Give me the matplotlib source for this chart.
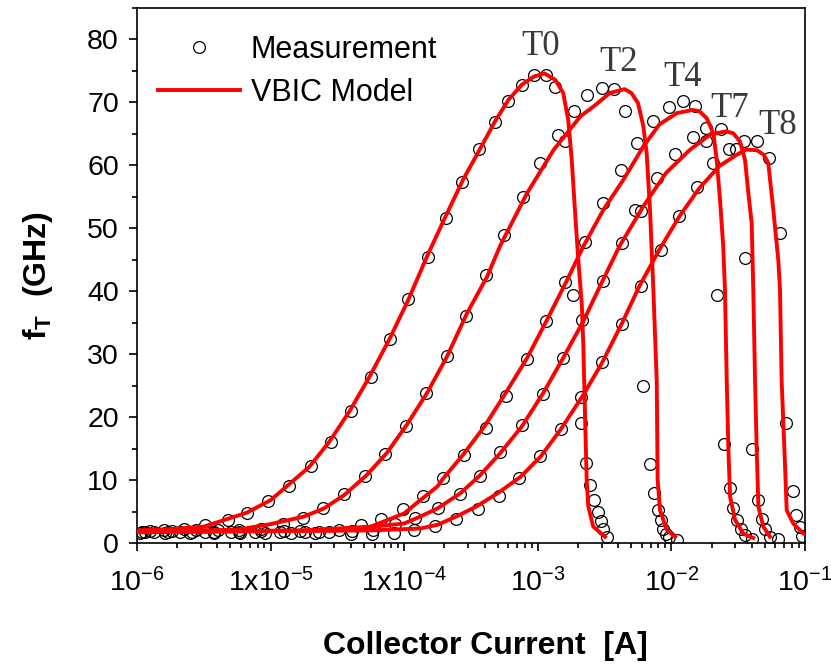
import numpy as np
from matplotlib import pyplot as plt
from matplotlib.lines import Line2D
from matplotlib.ticker import LogLocator, MultipleLocator, NullFormatter

plt.rcParams['font.family'] = ['Liberation Sans', 'DejaVu Sans']
plt.rcParams['mathtext.fontset'] = 'custom'
plt.rcParams['mathtext.rm'] = 'Liberation Sans'
plt.rcParams['mathtext.it'] = 'Liberation Sans:italic'
plt.rcParams['mathtext.bf'] = 'Liberation Sans:bold'

# log10 of collector current [A] and fT [GHz], VBIC model curves
t0_model_logic = [-6.00, -5.75, -5.50, -5.18, -5.00, -4.71, -4.56, -4.41, -4.26, -4.11, -3.97,
                  -3.83, -3.69, -3.56, -3.43, -3.32, -3.22, -3.12, -3.03, -2.95, -2.87, -2.81,
                  -2.772, -2.746, -2.722, -2.697, -2.671, -2.659, -2.647, -2.634, -2.622, -2.585, -2.497]
t0_model_ft = [2.0, 2.2, 2.6, 4.8, 6.8, 12.1, 16.1, 20.9, 26.4, 32.4, 38.6,
               45.5, 51.9, 57.7, 62.7, 67.0, 70.4, 72.8, 74.1, 74.6, 73.6, 71.5,
               67.2, 60.9, 52.9, 45.0, 38.0, 31.2, 20.6, 10.0, 5.8, 2.6, 1.0]

t2_model_logic = [-6.00, -5.60, -5.25, -5.00, -4.75, -4.60, -4.45, -4.28, -4.13, -3.98, -3.83,
                  -3.68, -3.53, -3.38, -3.28, -3.08, -2.88, -2.68, -2.58, -2.46, -2.35, -2.30,
                  -2.25, -2.21, -2.185, -2.160, -2.135, -2.110, -2.103, -2.085, -2.035, -1.973]
t2_model_ft = [1.9, 2.0, 2.1, 3.0, 4.2, 5.5, 7.6, 10.8, 14.3, 18.8, 23.8,
               29.6, 36.5, 42.3, 47.3, 55.6, 62.5, 67.8, 69.4, 71.5, 72.1, 71.5,
               69.9, 66.2, 61.9, 52.9, 40.2, 25.9, 10.0, 5.2, 2.1, 1.0]

t4_model_logic = [-6.00, -5.15, -4.75, -4.25, -4.00, -3.88, -3.75, -3.71, -3.56, -3.40, -3.25,
                  -3.08, -2.93, -2.78, -2.66, -2.51, -2.36, -2.21, -2.09, -1.96, -1.84, -1.79,
                  -1.736, -1.686, -1.661, -1.636, -1.612, -1.599, -1.586, -1.574, -1.561, -1.524,
                  -1.462, -1.387]
t4_model_ft = [1.8, 1.9, 2.0, 2.6, 4.7, 6.8, 9.0, 10.2, 14.0, 18.5, 23.5,
               29.4, 35.5, 41.8, 47.1, 52.9, 57.7, 63.0, 66.5, 68.3, 68.8, 68.6,
               67.5, 65.1, 60.9, 54.5, 47.1, 40.2, 25.9, 15.3, 7.4, 3.7,
               1.5, 0.8]

t7_model_logic = [-6.00, -4.50, -4.00, -3.88, -3.75, -3.58, -3.43, -3.28, -3.12, -2.96, -2.81,
                  -2.66, -2.53, -2.39, -2.21, -2.04, -1.86, -1.71, -1.59, -1.537, -1.487, -1.449,
                  -1.424, -1.399, -1.387, -1.374, -1.362, -1.349, -1.312, -1.262]
t7_model_ft = [1.8, 2.0, 3.1, 4.2, 5.5, 7.9, 10.8, 14.3, 18.5, 23.8, 29.4,
               35.2, 41.0, 47.1, 53.5, 58.8, 62.5, 64.9, 65.4, 65.1, 63.8, 60.9,
               55.6, 50.8, 40.2, 25.9, 15.3, 5.8, 2.6, 1.0]

t8_model_logic = [-6.00, -4.25, -3.88, -3.75, -3.61, -3.46, -3.30, -3.13, -2.98, -2.83, -2.66,
                  -2.52, -2.37, -2.24, -2.09, -1.94, -1.79, -1.64, -1.51, -1.44, -1.36, -1.31,
                  -1.275, -1.237, -1.200, -1.187, -1.175, -1.150, -1.137, -1.088, -1.013, -0.93]
t8_model_ft = [1.7, 2.0, 2.3, 2.9, 4.2, 5.8, 7.9, 10.5, 13.7, 18.0, 23.5,
               28.6, 34.9, 40.8, 46.6, 51.9, 56.4, 59.9, 61.7, 62.5, 62.4, 61.7,
               60.4, 52.9, 45.0, 40.2, 25.9, 12.7, 5.2, 3.1, 1.5, 1.0]

# measured data
t0_meas_logic = [-5.96, -5.80, -5.65, -5.49, -5.32, -5.18, -5.02, -4.86, -4.70, -4.55, -4.40,
                 -4.25, -4.11, -3.97, -3.82, -3.69, -3.57, -3.44, -3.32, -3.22, -3.12, -3.03,
                 -2.94, -2.87, -2.80, -2.74, -2.68, -2.64, -2.61, -2.58, -2.55, -2.53, -2.51, -2.48]
t0_meas_ft = [1.8, 2.1, 2.3, 2.9, 3.7, 4.8, 6.6, 9.1, 12.2, 16.1, 20.9,
              26.4, 32.4, 38.7, 45.4, 51.6, 57.3, 62.6, 66.9, 70.3, 72.8, 74.3,
              74.4, 72.5, 63.8, 39.4, 19.1, 12.7, 9.2, 6.8, 4.9, 3.5, 2.3, 1.0]

t2_meas_logic = [-5.90, -5.74, -5.56, -5.39, -5.24, -5.07, -4.91, -4.76, -4.61, -4.45, -4.29,
                 -4.14, -3.99, -3.84, -3.68, -3.54, -3.39, -3.25, -3.11, -2.98, -2.85, -2.73,
                 -2.63, -2.52, -2.43, -2.35, -2.21, -2.16, -2.13, -2.10, -2.08, -2.06, -2.04,
                 -2.02, -1.96]
t2_meas_ft = [1.9, 1.9, 2.0, 2.0, 2.1, 2.3, 3.0, 3.9, 5.5, 7.8, 10.7,
              14.1, 18.6, 23.8, 29.7, 36.1, 42.6, 49.0, 55.0, 60.3, 64.9, 68.6,
              71.1, 72.3, 72.1, 68.6, 25.0, 12.6, 7.9, 5.2, 3.7, 2.3, 1.5,
              0.9, 0.5]

t4_meas_logic = [-5.94, -5.77, -5.59, -5.42, -5.24, -5.07, -4.90, -4.78, -4.64, -4.49, -4.32,
                 -4.17, -4.01, -3.86, -3.71, -3.55, -3.39, -3.24, -3.08, -2.94, -2.80, -2.65,
                 -2.51, -2.38, -2.26, -2.14, -2.02, -1.91, -1.82, -1.74, -1.66, -1.61, -1.56,
                 -1.54, -1.51, -1.48, -1.45, -1.40]
t4_meas_ft = [1.8, 1.8, 1.8, 1.8, 1.8, 1.9, 1.9, 1.9, 1.8, 2.1, 2.9,
              3.8, 5.4, 7.5, 10.4, 14.0, 18.3, 23.4, 29.2, 35.3, 41.5, 47.9,
              54.0, 59.3, 63.6, 67.1, 69.3, 70.2, 69.4, 65.9, 39.4, 15.7, 8.7,
              5.5, 3.7, 2.3, 1.3, 0.6]

t7_meas_logic = [-5.87, -5.68, -5.49, -5.30, -5.12, -4.93, -4.74, -4.56, -4.39, -4.23, -4.07,
                 -3.92, -3.75, -3.58, -3.43, -3.28, -3.12, -2.96, -2.81, -2.67, -2.51, -2.37,
                 -2.27, -2.23, -2.11, -1.97, -1.84, -1.74, -1.63, -1.52, -1.45, -1.40, -1.35,
                 -1.32, -1.30, -1.26, -1.20]
t7_meas_ft = [1.7, 1.7, 1.7, 1.7, 1.7, 1.7, 1.8, 1.8, 1.9, 2.0, 3.0,
              4.0, 5.5, 7.8, 10.7, 14.4, 18.8, 23.7, 29.4, 35.5, 41.7, 47.7,
              52.9, 52.7, 58.0, 61.8, 64.5, 63.8, 65.7, 62.6, 45.3, 14.9, 6.9,
              3.8, 2.2, 1.0, 0.6]

t8_meas_logic = [-5.98, -5.79, -5.60, -5.42, -5.23, -5.04, -4.85, -4.67, -4.40, -4.24, -4.08,
                 -3.93, -3.77, -3.61, -3.45, -3.29, -3.14, -2.98, -2.83, -2.68, -2.52, -2.37,
                 -2.23, -2.08, -1.94, -1.81, -1.69, -1.57, -1.46, -1.36, -1.27, -1.19, -1.14,
                 -1.09, -1.07, -1.04, -1.02]
t8_meas_ft = [1.6, 1.6, 1.6, 1.6, 1.6, 1.6, 1.6, 1.6, 1.5, 1.5, 1.6,
              2.1, 2.7, 3.8, 5.4, 7.5, 10.3, 13.8, 18.1, 23.2, 28.8, 34.8,
              40.9, 46.5, 52.0, 56.5, 60.3, 62.6, 63.9, 63.8, 61.2, 49.2, 19.0,
              8.3, 4.5, 2.6, 1.1]

model_curves = [(t0_model_logic, t0_model_ft), (t2_model_logic, t2_model_ft),
                (t4_model_logic, t4_model_ft), (t7_model_logic, t7_model_ft),
                (t8_model_logic, t8_model_ft)]
meas_curves = [(t0_meas_logic, t0_meas_ft), (t2_meas_logic, t2_meas_ft),
               (t4_meas_logic, t4_meas_ft), (t7_meas_logic, t7_meas_ft),
               (t8_meas_logic, t8_meas_ft)]

# curve names and where they are written (current [A], fT [GHz])
curve_names = ['T0', 'T2', 'T4', 'T7', 'T8']
name_ic = [1.05e-3, 4.0e-3, 1.21e-2, 2.75e-2, 6.28e-2]
name_ft = [78.9, 76.4, 73.9, 69.0, 66.3]

xtick_values = [1e-6, 1e-5, 1e-4, 1e-3, 1e-2, 1e-1]
xtick_labels = [r'$\mathregular{10^{-6}}$', r'$\mathregular{1x10^{-5}}$', r'$\mathregular{1x10^{-4}}$',
                r'$\mathregular{10^{-3}}$', r'$\mathregular{10^{-2}}$', r'$\mathregular{10^{-1}}$']

fig = plt.figure(figsize=(8.31, 6.64), dpi=100)
ax = fig.add_axes([137 / 831, 121 / 664, 668 / 831, 535 / 664])

for logic, ft in meas_curves:
    ax.plot(10.0 ** np.array(logic), ft, ls='none', marker='o', ms=8.5,
            mfc='none', mec='black', mew=0.9, zorder=2)
for logic, ft in model_curves:
    ax.plot(10.0 ** np.array(logic), ft, color='#ff0000', lw=2.8,
            solid_joinstyle='round', zorder=3)

for name, ic, ft in zip(curve_names, name_ic, name_ft):
    ax.text(ic, ft, name, family='Liberation Serif', fontsize=25, color='#3a3a3a',
            ha='center', va='center')

ax.set_xscale('log')
ax.set_xlim(1e-6, 1e-1)
ax.set_ylim(0, 85)
ax.set_xticks(xtick_values)
ax.set_xticklabels(xtick_labels)
ax.xaxis.set_minor_locator(LogLocator(base=10, subs=np.arange(2, 10)))
ax.xaxis.set_minor_formatter(NullFormatter())
ax.yaxis.set_major_locator(MultipleLocator(10))
ax.yaxis.set_minor_locator(MultipleLocator(5))

ax.tick_params(which='both', direction='out', width=1.2, top=False, right=False, labelsize=20.5)
ax.tick_params(which='major', length=6)
ax.tick_params(which='minor', length=3.5)
ax.tick_params(axis='x', pad=12)
ax.tick_params(axis='y', pad=7)
for sp in ax.spines.values():
    sp.set_linewidth(1.2)

ax.set_xlabel('Collector Current  [A]', fontsize=23, fontweight='bold')
ax.set_ylabel(r'$\mathbf{f_T}$  (GHz)', fontsize=23, fontweight='bold')
ax.xaxis.set_label_coords(0.522, -0.165)
ax.yaxis.set_label_coords(-0.123, 0.5)

# legend
handles = [Line2D([], [], ls='none', marker='o', ms=8.5, mfc='none', mec='black', mew=0.9),
           Line2D([], [], color='#ff0000', lw=2.8)]
ax.legend(handles, ['Measurement', 'VBIC Model'], loc='upper left', bbox_to_anchor=(0.031, 0.95),
          frameon=False, fontsize=22, handlelength=2.7, handletextpad=0.35,
          labelspacing=0.42, borderpad=0, borderaxespad=0)

plt.savefig('out.png', dpi=100)
